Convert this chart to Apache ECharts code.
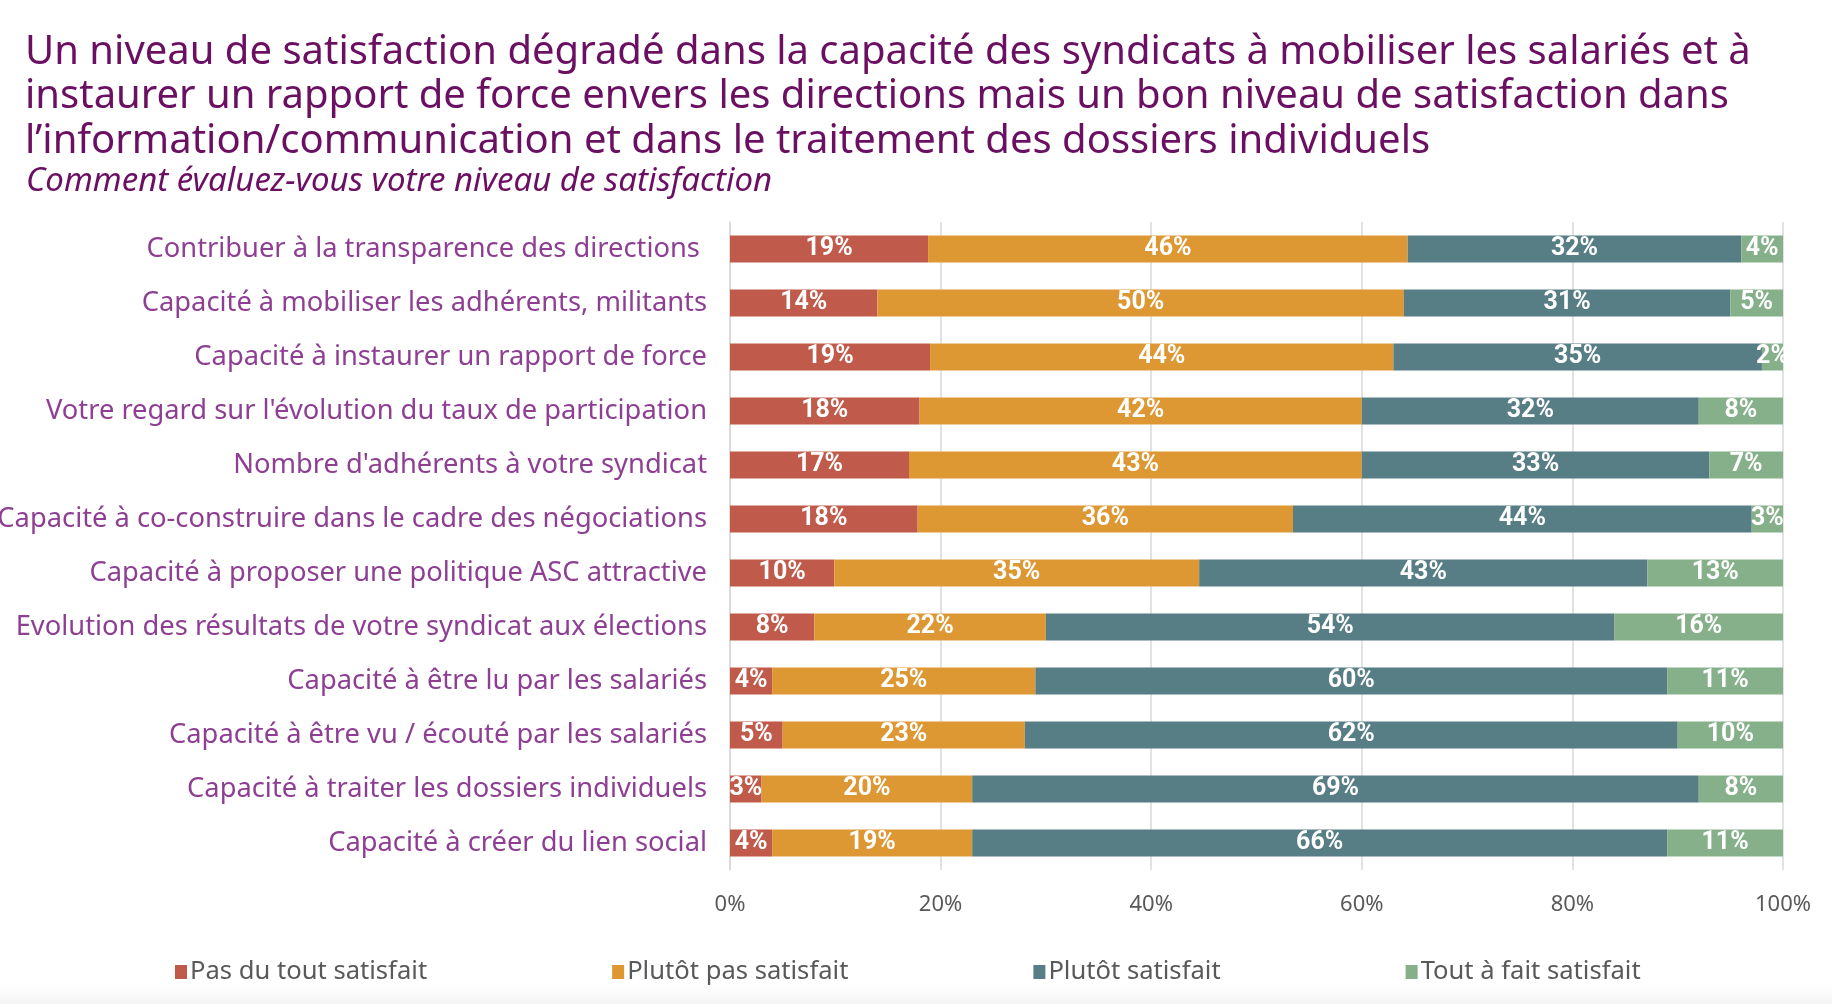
<!DOCTYPE html>
<html>
<head>
<meta charset="utf-8">
<script src="https://cdn.jsdelivr.net/npm/echarts@6/dist/echarts.min.js"></script>
<style>
html,body{margin:0;padding:0;background:#fff;}
#chart{width:1832px;height:1004px;}
</style>
</head>
<body>
<div id="chart"></div>
<script>
const titleLines = [
  "Un niveau de satisfaction dégradé dans la capacité des syndicats à mobiliser les salariés et à",
  "instaurer un rapport de force envers les directions mais un bon niveau de satisfaction dans",
  "l’information/communication et dans le traitement des dossiers individuels"
];
const subtitle = "Comment évaluez-vous votre niveau de satisfaction";

const categories = [
  "Contribuer à la transparence des directions ",
  "Capacité à mobiliser les adhérents, militants",
  "Capacité à instaurer un rapport de force",
  "Votre regard sur l'évolution du taux de participation",
  "Nombre d'adhérents à votre syndicat",
  "Capacité à co-construire dans le cadre des négociations",
  "Capacité à proposer une politique ASC attractive",
  "Evolution des résultats de votre syndicat aux élections",
  "Capacité à être lu par les salariés",
  "Capacité à être vu / écouté par les salariés",
  "Capacité à traiter les dossiers individuels",
  "Capacité à créer du lien social"
];
const seriesNames = ["Pas du tout satisfait", "Plutôt pas satisfait", "Plutôt satisfait", "Tout à fait satisfait"];
const pasDuTout  = [19, 14, 19, 18, 17, 18, 10, 8, 4, 5, 3, 4];
const plutotPas  = [46, 50, 44, 42, 43, 36, 35, 22, 25, 23, 20, 19];
const plutotSat  = [32, 31, 35, 32, 33, 44, 43, 54, 60, 62, 69, 66];
const toutAFait  = [4, 5, 2, 8, 7, 3, 13, 16, 11, 10, 8, 11];
const xTicks = [0, 20, 40, 60, 80, 100];
const colors = ["#c05a4a", "#dd9834", "#577d85", "#85b089"];

const all = [pasDuTout, plutotPas, plutotSat, toutAFait];
const totals = categories.map((_, i) => all.reduce((s, a) => s + a[i], 0));

const chart = echarts.init(document.getElementById('chart'), null, {renderer: 'canvas'});
const series = all.map((arr, k) => ({
  name: seriesNames[k],
  type: 'bar',
  stack: 'total',
  barWidth: 27,
  itemStyle: {color: colors[k]},
  label: {
    show: true,
    position: 'inside',
    color: '#fff',
    fontWeight: 'bold',
    fontSize: 25,
    fontFamily: 'Roboto, sans-serif',
    formatter: p => arr[p.dataIndex] + '%'
  },
  data: arr.map((v, i) => v / totals[i] * 100)
}));

chart.setOption({
  animation: false,
  backgroundColor: '#ffffff',
  color: colors,
  title: [
    {
      text: titleLines.join('\n'),
      left: 20, top: 25,
      textStyle: {fontFamily: '"Noto Sans", sans-serif', fontWeight: 'normal', fontSize: 40, color: '#6b0f62', lineHeight: 44.5}
    },
    {
      text: subtitle,
      left: 21, top: 160,
      textStyle: {fontFamily: '"Noto Sans", sans-serif', fontWeight: 'normal', fontStyle: 'italic', fontSize: 33, color: '#6b0f62'}
    }
  ],
  legend: {
    data: seriesNames,
    left: 170, top: 954,
    icon: 'rect',
    itemWidth: 12, itemHeight: 14,
    itemGap: 185,
    textStyle: {fontFamily: '"Noto Sans", sans-serif', fontSize: 25.6, color: '#595959', padding: [0, 0, 0, -2]}
  },
  grid: {left: 730, right: 49, top: 222, bottom: 134, containLabel: false, outerBoundsMode: 'none'},
  xAxis: {
    type: 'value', min: 0, max: 100, interval: 20,
    axisLine: {show: false}, axisTick: {show: false},
    splitLine: {show: true, lineStyle: {color: '#d9d9d9', width: 1.5}},
    axisLabel: {formatter: v => xTicks.includes(v) ? v + '%' : '', fontFamily: '"Noto Sans", sans-serif', fontSize: 22, color: '#595959', margin: 24}
  },
  yAxis: {
    type: 'category', inverse: true, data: categories,
    axisTick: {show: false},
    axisLine: {show: true, lineStyle: {color: '#d9d9d9', width: 1.5}},
    axisLabel: {fontFamily: '"Noto Sans", sans-serif', fontSize: 27.3, color: '#8e3f94', margin: 23}
  },
  graphic: [{
    type: 'rect', left: 0, top: 984, z: -10,
    shape: {width: 1832, height: 20},
    style: {fill: new echarts.graphic.LinearGradient(0, 0, 0, 1, [{offset: 0, color: '#ffffff'}, {offset: 1, color: '#f4f4f4'}])}
  }],
  series: series
});
</script>
</body>
</html>
